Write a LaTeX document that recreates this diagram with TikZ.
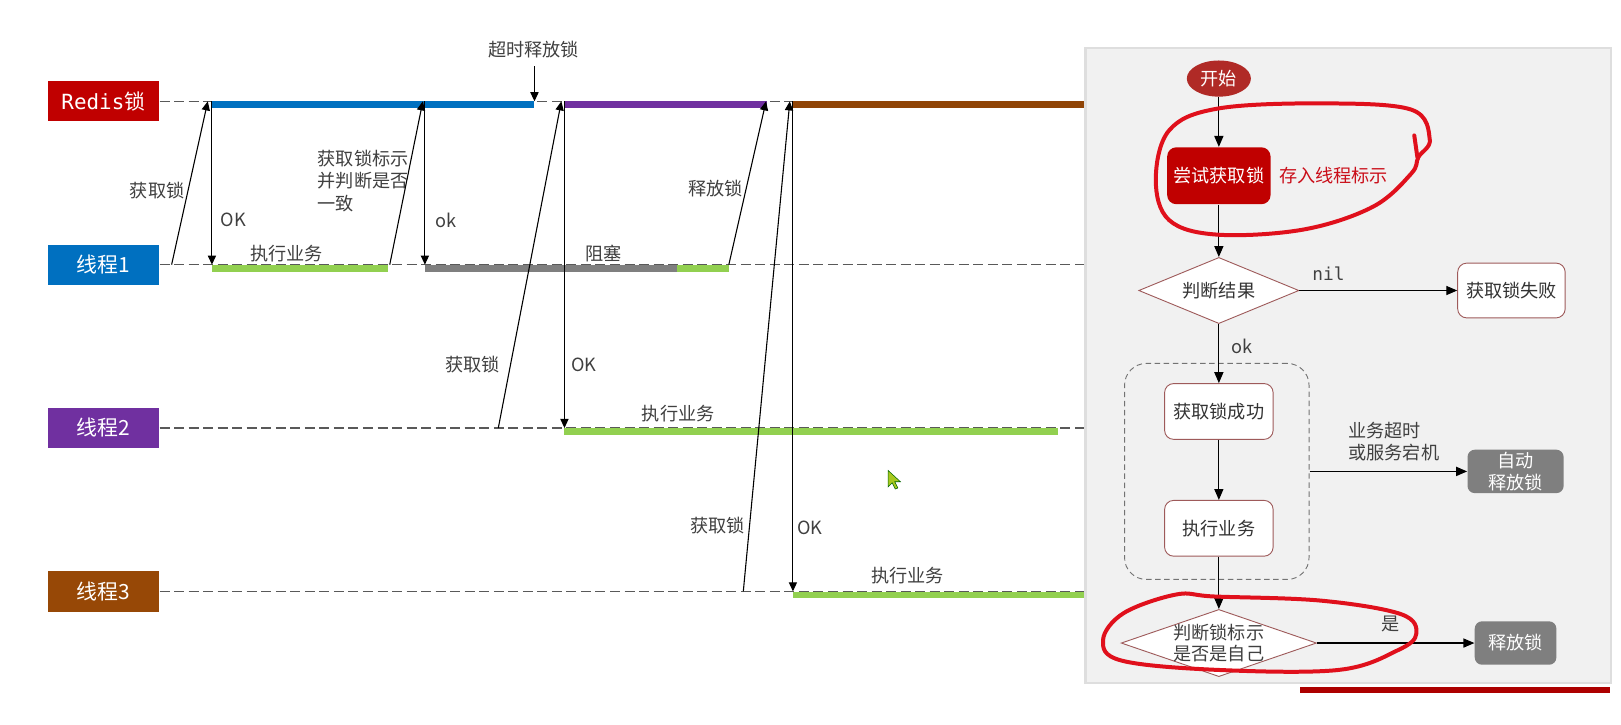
\documentclass[tikz,border=0pt]{standalone}
\usepackage{fontspec}
\setmainfont{Noto Sans CJK SC}
\newfontfamily\codefont{DejaVu Sans Mono}
\usepackage{tikz}
\usetikzlibrary{arrows.meta, positioning, shapes.geometric, calc}
\definecolor{rlock}{HTML}{C00000}
\definecolor{tblue}{HTML}{0070C0}
\definecolor{tpurple}{HTML}{7030A0}
\definecolor{tbrown}{HTML}{974806}
\definecolor{bgreen}{HTML}{92D050}
\definecolor{bgray}{HTML}{7F7F7F}
\definecolor{ltext}{HTML}{404040}
\definecolor{panelbg}{HTML}{F1F1F1}
\definecolor{fborder}{HTML}{9E5A5A}
\definecolor{startred}{HTML}{B02A26}
\definecolor{pen}{HTML}{E0101C}
\definecolor{curgreen}{HTML}{A8C81E}

\tikzset{
  lane/.style={fill=#1, text=white, minimum width=2.16cm, minimum height=0.78cm,
    inner sep=0pt, font=\fontsize{11.5}{13}\selectfont},
  life/.style={draw=black!65, line width=0.7pt, dash pattern=on 5.5pt off 2.5pt},
  bar/.style={line width=3.6pt, #1},
  sig/.style={-{Triangle[length=5pt,width=4.5pt]}, line width=0.6pt, black},
  lbl/.style={text=ltext, font=\fontsize{10}{12.4}\selectfont, inner sep=0pt},
  fbox/.style={draw=fborder, fill=white, rounded corners=5pt, line width=0.5pt,
    minimum width=2.1cm, minimum height=1.08cm, text=black!80,
    font=\fontsize{10}{12}\selectfont, inner sep=0pt},
  gbox/.style={fill=bgray, rounded corners=4pt, text=white, align=center,
    font=\fontsize{10}{12.2}\selectfont, inner sep=0pt},
  dec/.style={diamond, aspect=2.4, draw=fborder, fill=white, line width=0.5pt, inner sep=0pt,
    text=black!80, font=\fontsize{10}{12}\selectfont},
  flow/.style={-{Triangle[length=6pt,width=5pt]}, line width=0.6pt, black},
  penloop/.style={draw=pen, line width=2.2pt, line cap=round, line join=round},
}

\begin{document}
\begin{tikzpicture}[x=0.02cm, y=-0.02cm]
\useasboundingbox (0,0) rectangle (1568,701);
\fill[white] (0,0) rectangle (1568,701);

% lanes
\node[lane=rlock] (redis) at (100,98) {{\codefont Redis}锁};
\node[lane=tblue] (th1) at (100,256) {线程1};
\node[lane=tpurple] (th2) at (100,414) {线程2};
\node[lane=tbrown] (th3) at (100,572) {线程3};
\coordinate (redisend) at (1051,98);
\coordinate (th1end) at (1051,256);
\coordinate (th2end) at (1051,414);
\coordinate (th3end) at (1051,572);
\draw[life] (redis.east) -- (redisend);
\draw[life] (th1.east) -- (th1end);
\draw[life] (th2.east) -- (th2end);
\draw[life] (th3.east) -- (th3end);

% holding the lock / work
\draw[bar=tblue] (205,101) -- (517,101);
\draw[bar=tpurple] (546,101) -- (742,101);
\draw[bar=tbrown!95!black] (766,101) -- (1051,101);
\draw[bar=bgreen] (205,259.5) -- (375,259.5);
\draw[bar=bgray] (411,259.5) -- (655,259.5);
\draw[bar=bgreen] (655,259.5) -- (705,259.5);
\draw[bar=bgreen] (546,417.5) -- (1023,417.5);
\draw[bar=bgreen] (767,575.5) -- (1051,575.5);

% messages
\coordinate (a1s) at (166,256); \coordinate (a1e) at (201,98);
\coordinate (o1s) at (205,98);  \coordinate (o1e) at (205,256);
\coordinate (a2s) at (377,256); \coordinate (a2e) at (409,98);
\coordinate (o2s) at (411,98);  \coordinate (o2e) at (411,256);
\coordinate (r1s) at (705,256); \coordinate (r1e) at (741,98);
\coordinate (a3s) at (482,414); \coordinate (a3e) at (543,98);
\coordinate (o3s) at (546,98);  \coordinate (o3e) at (546,414);
\coordinate (a4s) at (719,572); \coordinate (a4e) at (764,98);
\coordinate (o4s) at (767,98);  \coordinate (o4e) at (767,572);
\coordinate (tos) at (517,64);  \coordinate (toe) at (517,98);
\draw[sig] (a1s) -- (a1e);
\draw[sig] (o1s) -- (o1e);
\draw[sig] (a2s) -- (a2e);
\draw[sig] (o2s) -- (o2e);
\draw[sig] (r1s) -- (r1e);
\draw[sig] (a3s) -- (a3e);
\draw[sig] (o3s) -- (o3e);
\draw[sig] (a4s) -- (a4e);
\draw[sig] (o4s) -- (o4e);
\draw[sig] (tos) -- (toe);

% message labels
\node[lbl] (timeout) at (516,48) {超时释放锁};
\node[lbl] (get1) at (152,184) {获取锁};
\node[lbl, anchor=west] (ok1) at (213,213) {OK};
\node[lbl] (work1) at (277,245) {执行业务};
\node[lbl, anchor=west, align=left] (check) at (307,175) {获取锁标示\\并判断是否\\一致};
\node[lbl, anchor=west] (ok2) at (421,213) {ok};
\node[lbl] (block) at (584,245) {阻塞};
\node[lbl] (free) at (692,182) {释放锁};
\node[lbl] (get2) at (457,353) {获取锁};
\node[lbl, anchor=west] (ok3) at (552,353) {OK};
\node[lbl] (work2) at (656,400) {执行业务};
\node[lbl] (get3) at (694,508) {获取锁};
\node[lbl, anchor=west] (ok4) at (771,511) {OK};
\node[lbl] (work3) at (878,557) {执行业务};

% mouse pointer
\filldraw[fill=curgreen, draw=black!60!green, line width=0.3pt]
  (859,455) -- (859,471) -- (863,467) -- (866,473) -- (868.5,472) -- (865.5,466) -- (871,466) -- cycle;

% flow chart panel
\fill[black!13] (1049,45) rectangle (1559,662);
\fill[panelbg] (1051,47) rectangle (1557,660);
\fill[rlock!90!black] (1257,665) rectangle (1557,670);

\node[ellipse, fill=startred, text=white, minimum width=1.24cm, minimum height=0.7cm,
  inner sep=0pt, font=\fontsize{10}{12}\selectfont] (start) at (1179,76) {开始};
\node[fbox, fill=rlock, draw=none, text=white, minimum width=2.0cm, minimum height=1.1cm] (try) at (1179,170) {尝试获取锁};
\node[lbl, text=pen!90!black] (mark) at (1290,170) {存入线程标示};
\node[dec, minimum width=3.1cm, minimum height=1.28cm] (judge) at (1179,281) {判断结果};
\node[fbox, minimum width=2.08cm, minimum height=1.06cm] (fail) at (1462,281) {获取锁失败};
\node[lbl, font=\codefont\fontsize{9.8}{12}\selectfont] (nil) at (1285,265) {nil};
\node[lbl] (okf) at (1201,335) {ok};
\node[draw=black!55, dash pattern=on 3pt off 2pt, line width=0.5pt, rounded corners=12pt,
  minimum width=3.57cm, minimum height=4.18cm] (grp) at (1177,456) {};
\node[fbox] (gotlock) at (1179,398) {获取锁成功};
\node[fbox] (exec) at (1179,511) {执行业务};
\node[gbox, minimum width=1.86cm, minimum height=0.84cm] (auto) at (1466,456) {自动\\释放锁};
\node[lbl, anchor=west, align=left, font=\fontsize{10}{12.2}\selectfont] (why) at (1304,427) {业务超时\\或服务宕机};
\node[dec, minimum width=3.78cm, minimum height=1.3cm] (chk) at (1179,622) {};
\node[lbl, text=black!75, align=center, font=\fontsize{10}{12}\selectfont] (chktxt) at (1179,622) {判断锁标示\\是否是自己};
\node[gbox, minimum width=1.58cm, minimum height=0.84cm] (rel) at (1466,622) {释放锁};
\node[lbl] (yes) at (1345,604) {是};

\draw[flow] (start) -- (try);
\draw[flow] (try) -- (judge);
\draw[flow] (judge) -- (fail);
\draw[flow] (judge) -- (gotlock);
\draw[flow] (gotlock) -- (exec);
\draw[flow] (exec) -- (chk);
\draw[flow] (grp.east) -- (auto.west);
\draw[flow] (chk) -- (rel);

% red pen marks
\draw[penloop] plot[smooth cycle, tension=0.6] coordinates {(1383,135) (1365,106) (1278,100) (1178,105)
  (1131,126) (1118,174) (1131,213) (1178,227) (1261,222) (1328,200) (1365,168) (1372,152)};
\draw[penloop] (1368,131) -- (1371,152);
\draw[penloop] plot[smooth cycle, tension=0.6] coordinates {(1175,577) (1138,575) (1087,593) (1067,619)
  (1085,639) (1178,648) (1295,648) (1352,629) (1370,613) (1355,594) (1278,581)};
\end{tikzpicture}
\end{document}
